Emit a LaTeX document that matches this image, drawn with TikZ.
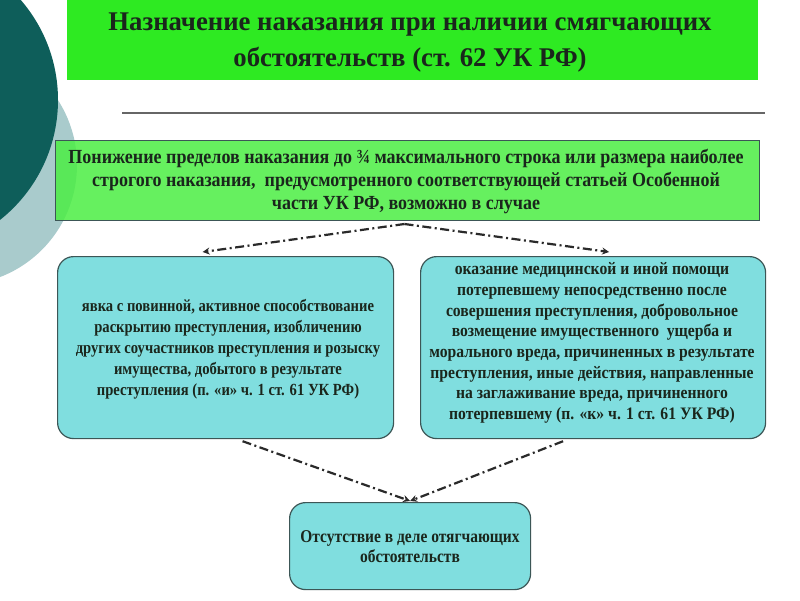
\documentclass[tikz,border=0pt]{standalone}
\usepackage{fontspec}
\setmainfont{Liberation Serif}
\newfontfamily\fA{Liberation Serif}[FakeStretch=0.99]
\newfontfamily\fB{Liberation Serif}[FakeStretch=0.9]
\newfontfamily\fL{Liberation Serif}[FakeStretch=0.86]
\newfontfamily\fR{Liberation Serif}[FakeStretch=0.895]
\usetikzlibrary{calc,arrows.meta}
\definecolor{darkteal}{HTML}{0E5E5A}
\definecolor{lightteal}{HTML}{A9CBCC}
\definecolor{titlegreen}{HTML}{2EEA22}
\definecolor{boxgreen}{HTML}{4CEE44}
\definecolor{cyanbox}{HTML}{80DEDF}
\definecolor{boxedge}{HTML}{3C5656}
\definecolor{txt}{HTML}{1A261C}
\definecolor{arrowc}{HTML}{2A2A2A}
\tikzset{
  cbox/.style={draw=boxedge, line width=1.2pt, fill=cyanbox, rounded corners=16pt, align=center, text=txt, inner sep=0pt},
  conn/.style={draw=arrowc, line width=2.2pt, dash pattern=on 9pt off 3.5pt on 2pt off 3.5pt, -{Stealth[length=7pt,width=7pt]}}
}
\begin{document}
\begin{tikzpicture}[x=1pt,y=-1pt]
\useasboundingbox (0,0) rectangle (800,600);
\fill[white] (0,0) rectangle (800,600);
\begin{scope}
\clip (0,0) rectangle (800,600);
\fill[lightteal] (-43,165) circle (120);
\fill[darkteal] (-95,100) circle (153);
\end{scope}
% title
\fill[titlegreen] (67,-2) rectangle (758,80);
\node[align=center, text=txt, inner sep=0pt, font=\fA\bfseries\fontsize{27}{36}\selectfont] (T) at (410,43)
  {Назначение наказания при наличии смягчающих\\обстоятельств (ст. 62 УК РФ)};
\draw[color=gray!80!black, line width=2.5pt] (122,113) coordinate (LA) -- (765,113) coordinate (LB);
% second box
\node[fill=boxgreen, fill opacity=0.85, text opacity=1, draw=boxedge, line width=1pt, minimum width=704pt, minimum height=80pt, anchor=north west, inner sep=0pt] (B) at (55,140) {};
\node[align=center, text=txt, inner sep=0pt, font=\fB\bfseries\fontsize{20}{23}\selectfont] (Bt) at (406,181)
  {Понижение пределов наказания до ¾ максимального строка или размера наиболее\\строгого наказания,\ \ предусмотренного соответствующей статьей Особенной\\части УК РФ, возможно в случае};
% left box
\node[cbox, minimum width=336pt, minimum height=182pt, anchor=north west] (L) at (57,256) {};
\node[align=center, text=txt, inner sep=0pt, font=\fL\bfseries\fontsize{17}{21}\selectfont] (Lt) at (228,349)
  {явка с повинной, активное способствование\\раскрытию преступления, изобличению\\других соучастников преступления и розыску\\имущества, добытого в результате\\преступления (п. «и» ч. 1 ст. 61 УК РФ)};
% right box
\node[cbox, minimum width=345pt, minimum height=182pt, anchor=north west] (R) at (420,256) {};
\node[align=center, text=txt, inner sep=0pt, font=\fR\bfseries\fontsize{17.5}{20.7}\selectfont] (Rt) at (592,343)
  {оказание медицинской и иной помощи\\потерпевшему непосредственно после\\совершения преступления, добровольное\\возмещение имущественного\ \ ущерба и\\морального вреда, причиненных в результате\\преступления, иные действия, направленные\\на заглаживание вреда, причиненного\\потерпевшему (п. «к» ч. 1 ст. 61 УК РФ)};
% bottom box
\node[cbox, minimum width=241pt, minimum height=87pt, anchor=north west] (D) at (289,502) {};
\node[align=center, text=txt, inner sep=0pt, font=\fL\bfseries\fontsize{18}{20}\selectfont] (Dt) at (410,547)
  {Отсутствие в деле отягчающих\\обстоятельств};
% connectors
\coordinate (S) at ($(B.south)+(-3,3)$);
\draw[conn] (S) -- ($(L.north)+(-23,-4)$);
\draw[conn] (S) -- ($(R.north)+(16,-4)$);
\draw[conn] ($(L.south)+(17,2)$) -- ($(D.north)+(0,-1)$);
\draw[conn] ($(R.south)+(-30,2)$) -- ($(D.north)+(0,-1)$);
\end{tikzpicture}
\end{document}
